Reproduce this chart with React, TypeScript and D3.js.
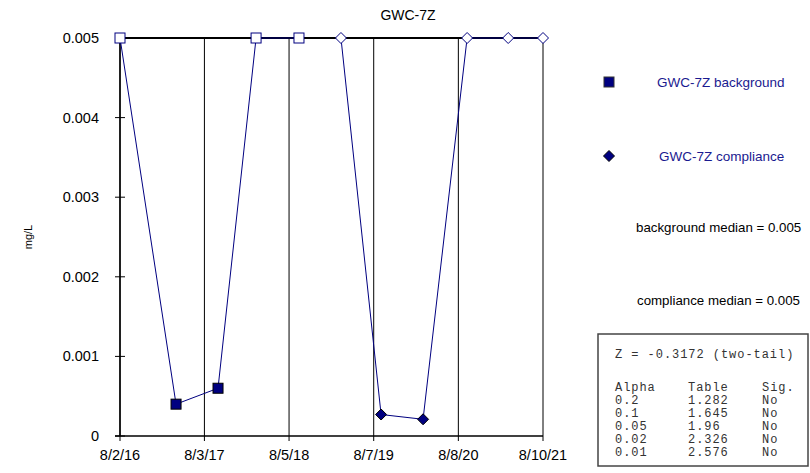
import React from 'react'
import * as d3 from 'd3'

const parse = d3.timeParse('%Y-%m-%d')

// background well samples (non-detects drawn hollow)
const bgDates = ['2016-08-02', '2017-04-02', '2017-10-01', '2018-03-15', '2018-09-17']
const bgValues = [0.005, 0.0004, 0.0006, 0.005, 0.005]
const bgNonDetect = [true, false, false, true, true]

// compliance samples
const compDates = ['2019-03-18', '2019-09-08', '2020-03-08', '2020-09-15', '2021-03-12', '2021-08-10']
const compValues = [0.005, 0.00027, 0.00021, 0.005, 0.005, 0.005]
const compNonDetect = [true, false, false, true, true, true]

const xTickDates = ['2016-08-02', '2017-08-03', '2018-08-05', '2019-08-07', '2020-08-08', '2021-08-10']
const xTickLabels = ['8/2/16', '8/3/17', '8/5/18', '8/7/19', '8/8/20', '8/10/21']
const yTicks = [0, 0.001, 0.002, 0.003, 0.004, 0.005]
const yTickLabels = ['0', '0.001', '0.002', '0.003', '0.004', '0.005']

const zLine = 'Z = -0.3172 (two-tail)'
const statHeader = ['Alpha', 'Table', 'Sig.']
const alphas = ['0.2', '0.1', '0.05', '0.02', '0.01']
const tableVals = ['1.282', '1.645', '1.96', '2.326', '2.576']
const sigs = ['No', 'No', 'No', 'No', 'No']

const NAVY = '#000080'
const sans = 'Liberation Sans, Arial, sans-serif'
const mono = 'Liberation Mono, Courier New, monospace'

const margin = { top: 38, left: 120 }
const innerW = 423
const innerH = 398

function App() {
    const x = d3.scaleTime()
        .domain([parse('2016-08-02')!, parse('2021-08-10')!])
        .range([margin.left, margin.left + innerW])
    const y = d3.scaleLinear().domain([0, 0.005]).range([margin.top + innerH, margin.top])

    const bg = bgDates.map((d, i) => ({ date: parse(d)!, v: bgValues[i], nd: bgNonDetect[i] }))
    const comp = compDates.map((d, i) => ({ date: parse(d)!, v: compValues[i], nd: compNonDetect[i] }))

    const line = d3.line<{ date: Date, v: number }>().x(d => x(d.date)).y(d => y(d.v))
    const diamond = (cx: number, cy: number, r: number) => `M${cx},${cy - r}L${cx + r},${cy}L${cx},${cy + r}L${cx - r},${cy}Z`

    const y0 = y(0)
    const boxX = 598
    const boxY = 334
    const cols = [615, 688, 762]
    // Courier-like: small glyphs, wide advance
    const monoStyle = { fontFamily: mono, fontSize: 12, letterSpacing: 0.95, fill: '#333' }

    return (
        <svg width={810} height={473} style={{ position: 'absolute', left: 0, top: 0, background: '#fff' }}>
            <text x={408} y={20} textAnchor="middle" fontFamily={sans} fontSize={14}>GWC-7Z</text>

            {/* vertical grid */}
            {xTickDates.map((d, i) => (
                <line key={'g' + i} x1={x(parse(d)!)} x2={x(parse(d)!)} y1={margin.top} y2={y0 + 5} stroke="#000" strokeWidth={1} />
            ))}
            {/* axes */}
            <line x1={margin.left} x2={margin.left} y1={margin.top} y2={y0} stroke="#000" strokeWidth={1.5} />
            <line x1={margin.left - 5} x2={margin.left + innerW} y1={y0} y2={y0} stroke="#000" strokeWidth={1.5} />
            <line x1={margin.left} x2={margin.left + innerW} y1={margin.top} y2={margin.top} stroke="#000" strokeWidth={2} />
            {yTicks.map((t, i) => (
                <g key={'y' + i}>
                    <line x1={margin.left - 5} x2={margin.left + 5} y1={y(t)} y2={y(t)} stroke="#000" strokeWidth={1} />
                    <text x={margin.left - 21} y={y(t) + 5} textAnchor="end" fontFamily={sans} fontSize={14.5}>{yTickLabels[i]}</text>
                </g>
            ))}
            {xTickDates.map((d, i) => (
                <text key={'x' + i} x={x(parse(d)!)} y={y0 + 24} textAnchor="middle" fontFamily={sans} fontSize={14.5}>{xTickLabels[i]}</text>
            ))}
            <text transform={`translate(32,${(margin.top + y0) / 2}) rotate(-90)`} textAnchor="middle" fontFamily={sans} fontSize={11}>mg/L</text>

            {/* series */}
            <path d={line(bg)!} fill="none" stroke={NAVY} strokeWidth={1} />
            <path d={line(comp)!} fill="none" stroke={NAVY} strokeWidth={1} />
            {bg.map((d, i) => (
                <rect key={'b' + i} x={x(d.date) - 5} y={y(d.v) - 5} width={10} height={10}
                    fill={d.nd ? '#fff' : NAVY} stroke={d.nd ? NAVY : '#000'} strokeWidth={1} />
            ))}
            {comp.map((d, i) => (
                <path key={'c' + i} d={diamond(x(d.date), y(d.v), 5.5)}
                    fill={d.nd ? '#fff' : NAVY} stroke={d.nd ? NAVY : '#000'} strokeWidth={1} />
            ))}

            {/* legend */}
            <rect x={604} y={77} width={10} height={10} fill={NAVY} stroke="#333" strokeWidth={1} />
            <text x={657} y={87} fontFamily={sans} fontSize={13.5} fill="#1a1a90">GWC-7Z background</text>
            <path d={diamond(609, 156, 5.5)} fill={NAVY} stroke="#000" strokeWidth={1} />
            <text x={659} y={161} fontFamily={sans} fontSize={13.5} fill="#1a1a90">GWC-7Z compliance</text>

            <text x={636} y={232} fontFamily={sans} fontSize={13.3}>background median = 0.005</text>
            <text x={637} y={305} fontFamily={sans} fontSize={13.3}>compliance median = 0.005</text>

            {/* stats box */}
            <rect x={boxX} y={boxY} width={210} height={132} fill="#fff" stroke="#444" strokeWidth={1.5} />
            <text x={cols[0]} y={358} style={monoStyle}>{zLine}</text>
            {statHeader.map((h, j) => (
                <text key={'h' + j} x={cols[j]} y={391} style={monoStyle}>{h}</text>
            ))}
            {alphas.map((a, i) => (
                <g key={'r' + i}>
                    <text x={cols[0]} y={404 + i * 13} style={monoStyle}>{a}</text>
                    <text x={cols[1]} y={404 + i * 13} style={monoStyle}>{tableVals[i]}</text>
                    <text x={cols[2]} y={404 + i * 13} style={monoStyle}>{sigs[i]}</text>
                </g>
            ))}
        </svg>
    )
}

export default App
